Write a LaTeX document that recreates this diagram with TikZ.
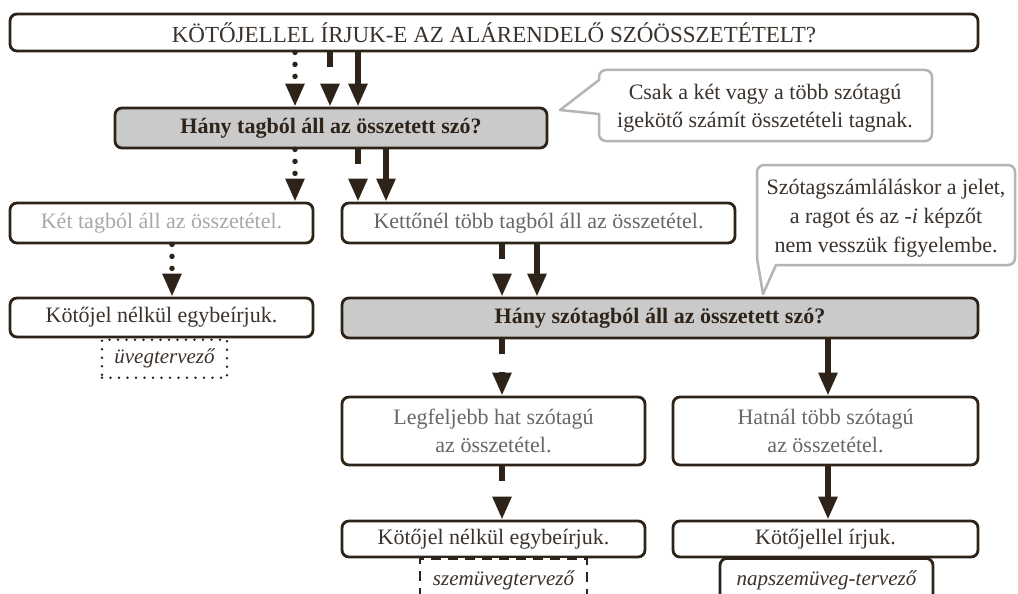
\documentclass[tikz,border=0pt]{standalone}
\usepackage{fontspec}
\setmainfont{Liberation Serif}
\usetikzlibrary{arrows.meta}
\definecolor{brn}{HTML}{2E2319}
\definecolor{txt}{HTML}{3A322C}
\definecolor{ltxt}{HTML}{A8A8A8}
\definecolor{mtxt}{HTML}{6A6664}
\definecolor{qfill}{HTML}{CACACA}
\definecolor{cgray}{HTML}{B4B4B4}
\begin{document}
\begin{tikzpicture}[x=1pt,y=-1pt,
  box/.style={draw=brn,line width=2.8pt,rounded corners=7pt,fill=white,inner sep=0pt,align=center,text=txt,font=\fontsize{22}{28}\selectfont},
  qbox/.style={box,fill=qfill,text=brn,font=\fontsize{22}{28}\selectfont\bfseries},
  ctext/.style={inner sep=0pt,align=center,text=txt,font=\fontsize{22}{28}\selectfont},
  callout/.style={draw=cgray,line width=2.5pt,fill=white,line join=round},
  exbase/.style={anchor=north,fill=white,inner xsep=0pt,text height=15pt,text depth=5pt,text=txt,font=\fontsize{21}{26}\selectfont\itshape},
  exdot/.style={exbase,draw=brn,line width=2.8pt,line cap=round,dash pattern=on 0pt off 8.5pt},
  exdash/.style={exbase,draw=brn,line width=2.8pt,dash pattern=on 10pt off 7pt},
  exsolid/.style={exbase,draw=brn,line width=2.8pt,rounded corners=7pt},
  arr/.style={draw=brn,line width=5.5pt,-{Triangle[width=18pt,length=23pt]}},
  dasharr/.style={arr,dash pattern=on 15pt off 18pt},
  dotarr/.style={arr,line cap=round,dash pattern=on 0pt off 12pt}
]
\useasboundingbox (0,0) rectangle (1018,594);
\fill[white] (0,0) rectangle (1018,594);

% x positions of the connectors
\coordinate (xa) at (295,0);
\coordinate (xb) at (330,0);
\coordinate (xc) at (358,0);
\coordinate (xd) at (386,0);
\coordinate (xe) at (172,0);
\coordinate (xf) at (502,0);
\coordinate (xg) at (537,0);
\coordinate (xh) at (828,0);

% callouts
\draw[callout] (599,80) [rounded corners=7pt] -- (599,70) -- (932,70) -- (932,141) -- (599,141) -- (599,125) [sharp corners] -- (599,114) -- (560,110) -- cycle;
\node[ctext] (c1t) at (765,108.5) {Csak a két vagy a több szótagú\\igekötő számít összetételi tagnak.};

\draw[callout] (776,265) [rounded corners=7pt] -- (1015,265) -- (1015,165) -- (757,165) -- (757,252) [sharp corners] -- (757,258) -- (763,294) -- cycle;
\node[ctext,font=\fontsize{22}{29}\selectfont] (c2t) at (886,218) {Szótagszámláláskor a jelet,\\a ragot és az \textit{-i} képzőt\\nem vesszük figyelembe.};

% boxes
\node[box,minimum width=968pt,minimum height=37pt,text=txt,font=\fontsize{23}{28}\selectfont] (top) at (494,32.5) {KÖTŐJELLEL ÍRJUK-E AZ ALÁRENDELŐ SZÓÖSSZETÉTELT?};
\node[qbox,minimum width=432pt,minimum height=40pt] (hq1) at (331,128) {Hány tagból áll az összetett szó?};
\node[box,minimum width=303pt,minimum height=40pt,text=ltxt] (ket) at (161.5,223) {Két tagból áll az összetétel.};
\node[box,minimum width=393pt,minimum height=40pt,text=mtxt] (ketto) at (538.5,223) {Kettőnél több tagból áll az összetétel.};
\node[box,minimum width=303pt,minimum height=39pt] (kot1) at (161.5,317.5) {Kötőjel nélkül egybeírjuk.};
\node[qbox,minimum width=636pt,minimum height=40pt] (hq2) at (660,318) {Hány szótagból áll az összetett szó?};
\node[box,minimum width=303pt,minimum height=68pt,text=mtxt] (leg) at (493.5,431) {Legfeljebb hat szótagú\\az összetétel.};
\node[box,minimum width=305pt,minimum height=68pt,text=mtxt] (hat) at (825.5,431) {Hatnál több szótagú\\az összetétel.};
\node[box,minimum width=303pt,minimum height=36pt] (kot2) at (493.5,539) {Kötőjel nélkül egybeírjuk.};
\node[box,minimum width=305pt,minimum height=36pt] (kot3) at (825.5,539) {Kötőjellel írjuk.};

% examples
\node[exdot,minimum width=125pt,inner ysep=9pt] (ex1) at (kot1.south -| 164.5,0) {üvegtervező};
\node[exdash,minimum width=167pt,inner ysep=12pt] (ex2) at (503.5,557) {szemüvegtervező};
\node[exsolid,minimum width=213pt,inner ysep=12pt] (ex3) at (826.5,557) {napszemüveg-tervező};

% connectors
\draw[dotarr] (top.south -| xa) -- (hq1.north -| xa);
\draw[dasharr] (top.south -| xb) -- (hq1.north -| xb);
\draw[arr] (top.south -| xc) -- (hq1.north -| xc);
\draw[dotarr] (hq1.south -| xa) -- (ket.north -| xa);
\draw[dasharr] (hq1.south -| xc) -- (ketto.north -| xc);
\draw[arr] (hq1.south -| xd) -- (ketto.north -| xd);
\draw[dotarr] (ket.south -| xe) -- (kot1.north -| xe);
\draw[dasharr] (ketto.south -| xf) -- (hq2.north -| xf);
\draw[arr] (ketto.south -| xg) -- (hq2.north -| xg);
\draw[dasharr] (hq2.south -| xf) -- (leg.north -| xf);
\draw[arr] (hq2.south -| xh) -- (hat.north -| xh);
\draw[dasharr] (leg.south -| xf) -- (kot2.north -| xf);
\draw[arr] (hat.south -| xh) -- (kot3.north -| xh);
\end{tikzpicture}
\end{document}
